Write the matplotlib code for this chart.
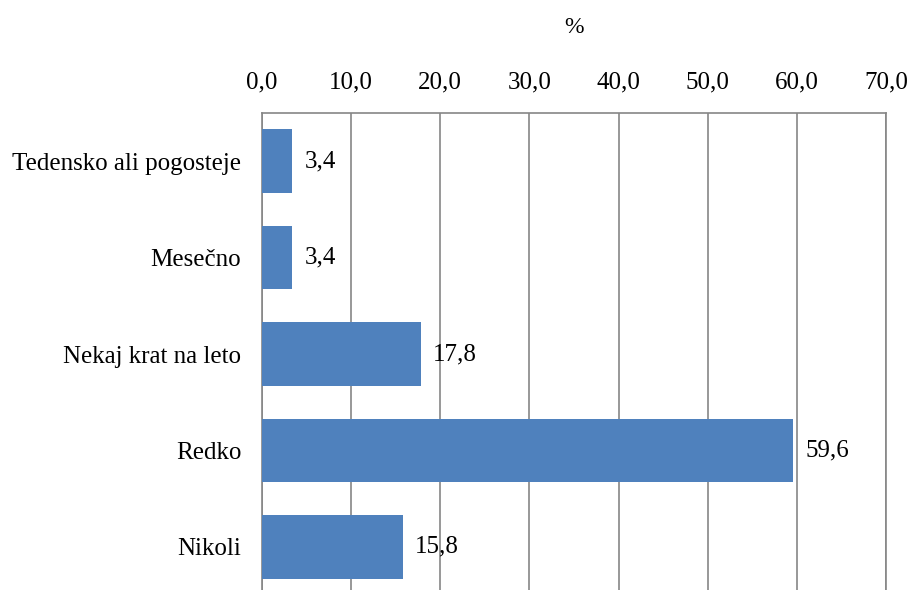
import matplotlib.pyplot as plt

categories = ["Tedensko ali pogosteje", "Mesečno", "Nekaj krat na leto", "Redko", "Nikoli"]
values = [3.4, 3.4, 17.8, 59.6, 15.8]
ticks = [0, 10, 20, 30, 40, 50, 60, 70]

plt.rcParams['font.family'] = ['Liberation Serif', 'DejaVu Serif']

fig = plt.figure(figsize=(9.11, 5.9), dpi=100)
ax = fig.add_axes([262 / 911, -5 / 590, 624 / 911, 482 / 590])

y = range(len(categories))
ax.barh(y, values, height=0.66, color='#4F81BD', zorder=3)
for i, v in enumerate(values):
    ax.text(v + 1.4, i, f"{v:.1f}".replace('.', ','), va='center', ha='left', fontsize=18)

ax.set_ylim(len(categories) - 0.5, -0.5)
ax.set_yticks(list(y))
ax.set_yticklabels(categories, fontsize=18)
ax.set_xlim(0, 70)
ax.set_xticks(ticks)
ax.set_xticklabels([f"{t:.1f}".replace('.', ',') for t in ticks], fontsize=18)
ax.xaxis.tick_top()
ax.xaxis.set_label_position('top')
ax.set_xlabel('%', fontsize=17, labelpad=28)
ax.tick_params(axis='y', length=0, pad=15)
ax.tick_params(axis='x', length=0, pad=14)
ax.grid(axis='x', color='#868686', linewidth=1.2, zorder=0)
for s in ax.spines.values():
    s.set_color('#868686')
    s.set_linewidth(1.2)
ax.spines['bottom'].set_visible(False)

fig.savefig('out.png', dpi=100)
